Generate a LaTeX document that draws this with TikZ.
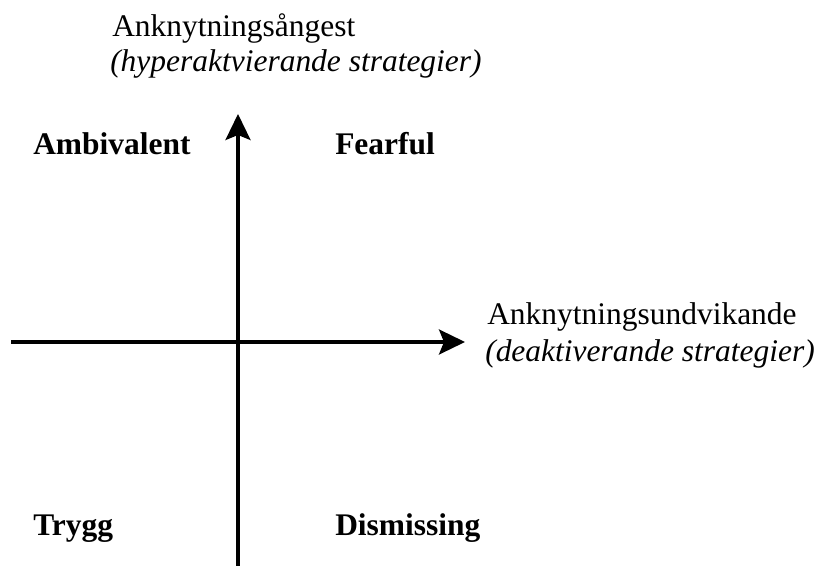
\documentclass[tikz,border=0pt]{standalone}
\usepackage{fontspec}
\setmainfont{Liberation Serif}
\usetikzlibrary{arrows.meta}
\begin{document}
\begin{tikzpicture}[x=0.75pt,y=-0.75pt,
  lbl/.style={anchor=base west,inner sep=0pt,font=\fontsize{23.6}{28}\selectfont},
  grp/.style={lbl,font=\fontsize{23.6}{28}\selectfont\bfseries},
  axis/.style={line width=2.4pt,-{Stealth[length=19.5pt,width=18.75pt,inset=3.75pt]}}]
\useasboundingbox (0,0) rectangle (824,566);
\coordinate (ybot) at (238,566);
\coordinate (ytop) at (238,114);
\coordinate (xl) at (11,342);
\coordinate (xr) at (465,342);
\draw[axis] (ybot)--(ytop);
\draw[axis] (xl)--(xr);
\node[lbl] (angst) at (112,37) {Anknytningsångest};
\node[lbl] (hyper) at (110,72) {\itshape (hyperaktvierande strategier)};
\node[lbl] (undv) at (487,325) {Anknytningsundvikande};
\node[lbl] (deakt) at (485,362) {\itshape (deaktiverande strategier)};
\node[grp] (amb) at (33,155) {Ambivalent};
\node[grp] (fear) at (335,155) {Fearful};
\node[grp] (trygg) at (33,535) {Trygg};
\node[grp] (dism) at (335,535) {Dismissing};
\end{tikzpicture}
\end{document}
